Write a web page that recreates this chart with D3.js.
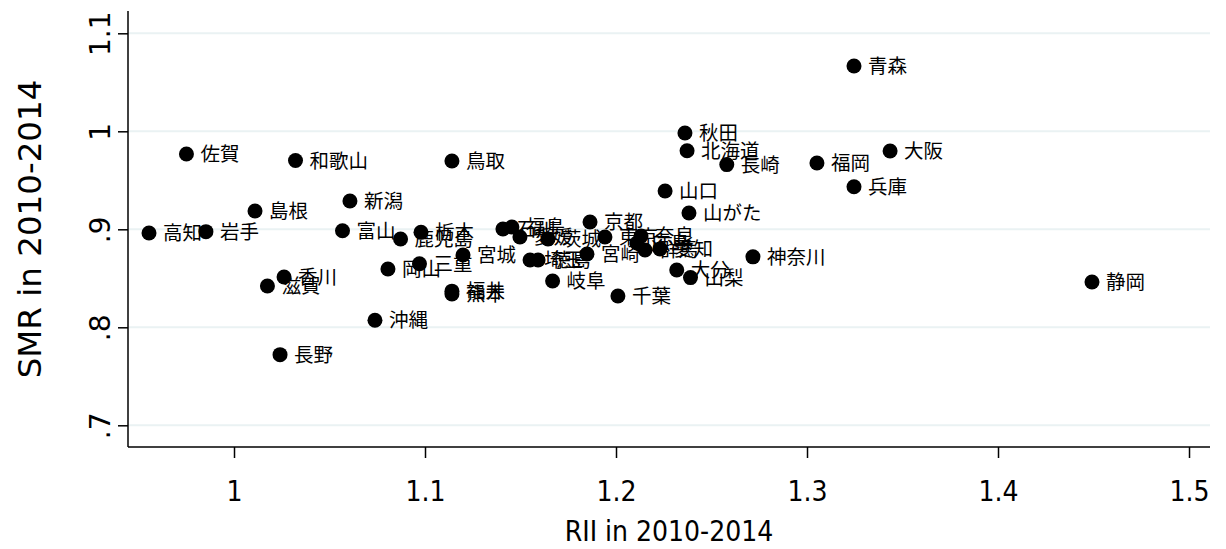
<!DOCTYPE html>
<html>
<head>
<meta charset="utf-8">
<script src="https://cdn.jsdelivr.net/npm/d3@7"></script>
<style>
  html, body { margin: 0; padding: 0; background: #fff; }
  svg { display: block; }
</style>
</head>
<body>
<svg id="chart" width="1226" height="549"></svg>
<script>
const prefectures = ["北海道","青森","岩手","宮城","秋田","山がた","福島","茨城","栃木","群馬",
  "埼玉","千葉","東京","神奈川","新潟","富山","石川","福井","山梨","長野",
  "岐阜","静岡","愛知","三重","滋賀","京都","大阪","兵庫","奈良","和歌山",
  "鳥取","島根","岡山","広島","山口","徳島","香川","愛媛","高知","福岡",
  "佐賀","長崎","熊本","大分","宮崎","鹿児島","沖縄"];
const rii = [1.2372,1.3246,0.9853,1.1199,1.2361,1.2382,1.1455,1.1644,1.0979,1.2152,
  1.1550,1.2010,1.1942,1.2717,1.0607,1.0568,1.1408,1.1141,1.2390,1.0241,
  1.1668,1.4492,1.2230,1.0971,1.0175,1.1864,1.3435,1.3246,1.2131,1.0322,
  1.1141,1.0110,1.0806,1.2110,1.2257,1.1592,1.0262,1.1497,0.9555,1.3052,
  0.9751,1.2580,1.1141,1.2318,1.1848,1.0872,1.0738];
const smr = [0.9802,1.0666,0.8976,0.8738,0.9983,0.9166,0.9023,0.8901,0.8970,0.8789,
  0.8687,0.8319,0.8921,0.8719,0.9289,0.8985,0.9003,0.8369,0.8507,0.7721,
  0.8472,0.8462,0.8799,0.8648,0.8421,0.9074,0.9799,0.9434,0.8932,0.9702,
  0.9697,0.9187,0.8595,0.8860,0.9391,0.8687,0.8513,0.8921,0.8962,0.9677,
  0.9768,0.9660,0.8340,0.8585,0.8748,0.8901,0.8072];
const xTicks = [1, 1.1, 1.2, 1.3, 1.4, 1.5];
const xTickLabels = ["1", "1.1", "1.2", "1.3", "1.4", "1.5"];
const yTicks = [0.7, 0.8, 0.9, 1.0, 1.1];
const yTickLabels = [".7", ".8", ".9", "1", "1.1"];
const xTitle = "RII in 2010-2014";
const yTitle = "SMR in 2010-2014";

(function () {
const data = prefectures.map((p, i) => ({ name: p, x: rii[i], y: smr[i] }));

const svg = d3.select("#chart");
const pL = 128, pR = 1210, pT = 11, pB = 447;

const x = d3.scaleLinear().domain([0.94450, 1.51099]).range([pL, pR]);
const y = d3.scaleLinear().domain([0.67786, 1.12276]).range([pB, pT]);

svg.append("rect").attr("width", 1226).attr("height", 549).attr("fill", "#fff");

// gridlines
svg.append("g")
  .selectAll("line")
  .data(yTicks)
  .join("line")
  .attr("x1", pL).attr("x2", pR)
  .attr("y1", d => y(d)).attr("y2", d => y(d))
  .attr("stroke", "#eaf2f3").attr("stroke-width", 2);

// x axis
const xAxis = svg.append("g")
  .attr("transform", `translate(0,${pB})`)
  .call(d3.axisBottom(x).tickValues(xTicks).tickFormat((d, i) => xTickLabels[i]).tickSize(11).tickPadding(23));
xAxis.select(".domain").attr("stroke", "#000").attr("stroke-width", 1.5).attr("d", `M${pL},0H${pR}`);
xAxis.selectAll(".tick line").attr("stroke", "#000").attr("stroke-width", 1.5);
xAxis.selectAll(".tick text")
  .attr("font-family", "DejaVu Sans Condensed, DejaVu Sans, sans-serif")
  .attr("font-stretch", "condensed")
  .attr("font-size", 28).attr("fill", "#000");

// y axis
const yAxis = svg.append("g")
  .attr("transform", `translate(${pL},0)`)
  .call(d3.axisLeft(y).tickValues(yTicks).tickFormat((d, i) => yTickLabels[i]).tickSize(10).tickPadding(0));
yAxis.select(".domain").attr("stroke", "#000").attr("stroke-width", 1.5).attr("d", `M0,${pT}V${pB}`);
yAxis.selectAll(".tick line").attr("stroke", "#000").attr("stroke-width", 1.5);
yAxis.selectAll(".tick text")
  .attr("font-family", "DejaVu Sans, Verdana, sans-serif").attr("font-size", 28).attr("fill", "#000")
  .attr("x", null).attr("dy", null)
  .attr("text-anchor", "middle")
  .attr("transform", "translate(-18,0) rotate(-90)");

// titles
svg.append("text")
  .attr("x", (pL + pR) / 2).attr("y", 541)
  .attr("text-anchor", "middle")
  .attr("font-family", "DejaVu Sans Condensed, DejaVu Sans, sans-serif")
  .attr("font-stretch", "condensed")
  .attr("font-size", 28)
  .attr("fill", "#000")
  .text(xTitle);
svg.append("text")
  .attr("transform", `translate(41,${(pT + pB) / 2}) rotate(-90)`)
  .attr("text-anchor", "middle")
  .attr("font-family", "DejaVu Sans, Verdana, sans-serif").attr("font-size", 32.5)
  .attr("fill", "#000")
  .text(yTitle);

// points & labels
const pts = svg.append("g");
data.forEach(d => {
  pts.append("circle")
    .attr("cx", x(d.x)).attr("cy", y(d.y)).attr("r", 7.5)
    .attr("fill", "#000");
  pts.append("text")
    .attr("x", x(d.x) + 14).attr("y", y(d.y))
    .attr("dy", "0.36em")
    .attr("font-family", "Noto Sans CJK JP, sans-serif").attr("font-size", 19.5)
    .attr("fill", "#000")
    .text(d.name);
});
})();
</script>
</body>
</html>
